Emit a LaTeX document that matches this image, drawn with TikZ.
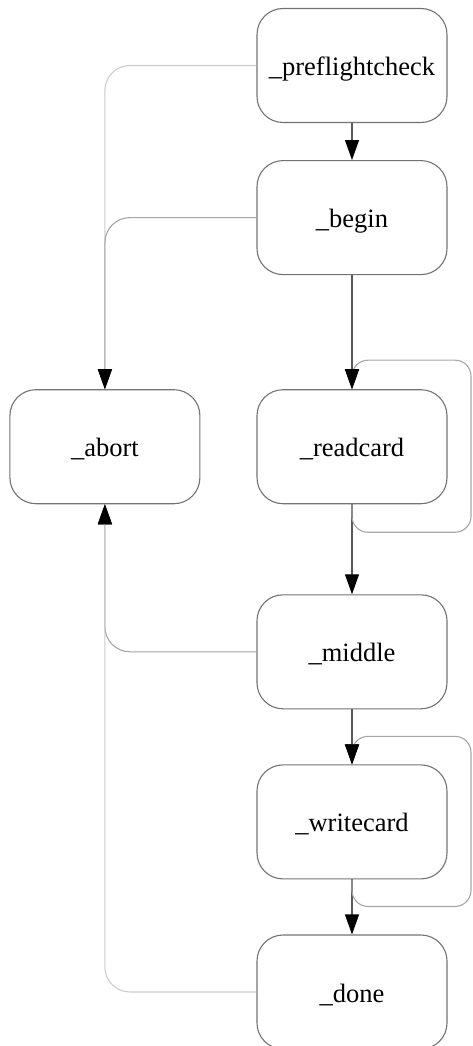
\documentclass[tikz,border=0pt]{standalone}
\usepackage{fontspec}
\setmainfont{Liberation Serif}
\usetikzlibrary{arrows.meta,positioning,calc}
\definecolor{boxline}{gray}{0.45}
\definecolor{mainline}{gray}{0.35}
\definecolor{sideline}{gray}{0.65}
\definecolor{paleline}{gray}{0.8}

\begin{document}
\begin{tikzpicture}[x=1pt,y=1pt,node distance=37pt and 56pt]

\tikzset{statenode/.style={font=\fontsize{26.5}{30}\selectfont,draw=boxline,line width=1.1pt,rounded corners=26pt,minimum width=190pt,minimum height=114pt,inner sep=0pt,text height=20pt,text depth=0pt,shape=rectangle},
mainedge/.style={draw=mainline,line width=1.1pt,-{Triangle[length=20pt,width=14pt,black]}},
sideedge/.style={draw=sideline,line width=1.1pt,rounded corners=25pt,-{Triangle[length=20pt,width=14pt,black]}},
paleedge/.style={sideedge,draw=paleline},
loopedge/.style={sideedge,rounded corners=16pt}}

\useasboundingbox (0,0) rectangle (472,-1046);

% States
\node[statenode] (pre) at (352,-65.5) {\_preflightcheck};
\node[statenode,below=of pre] (begin) {\_begin};
\node[statenode,below=114pt of begin] (readcard) {\_readcard};
\node[statenode,left=of readcard] (abort) {\_abort};
\node[statenode,below=90pt of readcard] (middle) {\_middle};
\node[statenode,below=55pt of middle] (writecard) {\_writecard};
\node[statenode,below=55pt of writecard] (done) {\_done};

% Edges to abort
\draw[paleedge] (pre.west) -| (abort.north); \draw[sideedge] (begin.west) -| (abort.north);
\draw[sideedge] (middle.west) -| (abort.south); \draw[paleedge] (done.west) -| (abort.south);

% Main chain
\draw[mainedge] (pre) -- (begin); \draw[mainedge] (begin) -- (readcard); \draw[mainedge] (readcard) -- (middle);
\draw[mainedge] (middle) -- (writecard); \draw[mainedge] (writecard) -- (done);

% Self loops
\draw[loopedge] (readcard.south) |- ($(readcard.south)+(119,-28)$) |- ($(readcard.north)+(0,29)$) -- (readcard.north);
\draw[loopedge] (writecard.south) |- ($(writecard.south)+(119,-27)$) |- ($(writecard.north)+(0,28)$) -- (writecard.north);

\end{tikzpicture}
\end{document}
